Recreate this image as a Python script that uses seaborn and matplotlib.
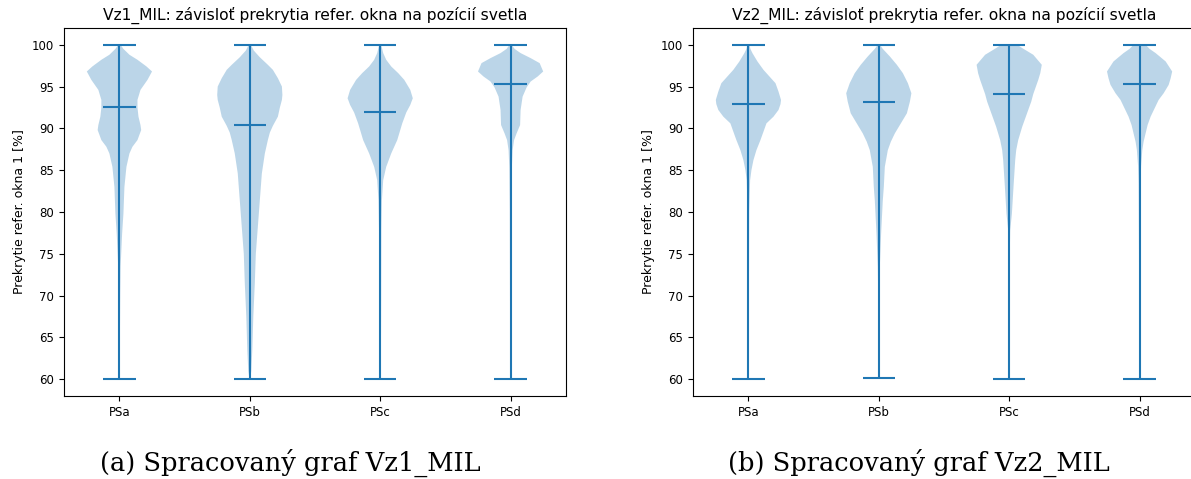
import matplotlib
matplotlib.use("Agg")
import matplotlib.pyplot as plt
import seaborn as sns

# kategorie (pozicie svetla)
categories = ["PSa", "PSb", "PSc", "PSd"]

# Vz1_MIL: profil hustoty (y v %, polovicna sirka v relativnych jednotkach)
vz1_psa_y = [60, 65, 70, 73.5, 77.4, 79.8, 83, 85.4, 87, 87.8, 88.6, 89.8, 90.4, 91.4, 92.5, 93.4, 94.6, 95.8, 96.8, 97.4, 98.2, 98.8, 99.5, 100]
vz1_psa_w = [0.3, 0.5, 0.8, 1.2, 2.7, 4, 5, 7, 10, 13, 18, 21.7, 21, 19, 18, 18, 21, 28, 32.5, 27, 18, 10, 4, 1]
vz1_psb_y = [60, 61, 63.5, 67.5, 71.5, 75, 77.4, 81.4, 84.6, 87, 88.6, 89.5, 90.3, 91.4, 92.5, 93.4, 94, 95, 96, 97, 97.6, 98.5, 99.3, 100]
vz1_psb_w = [0.3, 1.5, 2.5, 3.5, 5, 6, 7.5, 10, 12, 15, 18, 20, 23, 28, 30, 32, 32.5, 32, 28, 23, 18, 10, 4, 1]
vz1_psc_y = [60, 65, 70, 78, 81.4, 83.8, 85.4, 87, 88.6, 90.6, 91.9, 92.8, 93.6, 94.6, 95.8, 96.6, 97.4, 98.2, 99, 100]
vz1_psc_w = [0.5, 0.8, 1, 1.2, 1.7, 3, 6, 11, 17, 22, 26, 30, 32.5, 30, 24, 18, 11, 6, 3, 1]
vz1_psd_y = [60, 70, 80, 85.4, 87.4, 88.6, 89.4, 90.4, 92.2, 93.8, 94.9, 95.6, 96.2, 96.8, 97.8, 98.4, 99, 99.5, 100]
vz1_psd_w = [0.4, 0.6, 0.8, 1.3, 2, 3.5, 6, 9.5, 10, 12, 16, 20, 27, 32.5, 29, 20, 10, 4, 1]

# Vz2_MIL
vz2_psa_y = [60, 70, 80, 83.8, 85, 86.2, 87.4, 88.6, 89.6, 90.6, 91.4, 92.2, 92.9, 93.4, 94.4, 95.4, 96.2, 97, 98, 99, 99.5, 100]
vz2_psa_w = [0.4, 0.5, 0.8, 1.7, 3, 5, 8, 12, 15, 18, 25, 30, 32, 32.5, 30, 27, 21, 15, 9, 4, 2, 1]
vz2_psb_y = [60.1, 65, 70, 73.4, 77.4, 81.4, 83, 85.4, 87.4, 88.4, 89.4, 90.6, 91.8, 93.2, 94.2, 95.4, 96.6, 97.6, 98.6, 99.5, 100]
vz2_psb_w = [0.3, 0.5, 0.6, 1, 2.3, 4, 5, 6, 9, 12, 16, 22, 28, 31, 32.5, 29, 24, 18, 11, 4, 1]
vz2_psc_y = [60, 70, 75, 77.8, 79.8, 83, 86.2, 87.4, 88.6, 90.2, 91.2, 92.2, 93.2, 94.1, 95.8, 96.6, 97.6, 98.8, 99.6, 100]
vz2_psc_w = [0.4, 0.5, 0.6, 1, 2.7, 4.3, 6, 7, 9, 13, 16, 19, 22, 24, 29, 31, 32.5, 24, 13, 8]
vz2_psd_y = [60, 75, 83.4, 85.5, 87.4, 88.4, 89.4, 90.4, 91.4, 92.4, 93.4, 94.2, 95.2, 96, 96.8, 98, 99, 99.5, 100]
vz2_psd_w = [0.4, 0.6, 1, 1.5, 2.7, 4, 6, 8, 11, 15, 19, 24, 29, 31, 32.5, 26, 16, 10, 6]

vz1_means = [92.5, 90.4, 92.0, 95.3]
vz2_means = [92.9, 93.2, 94.1, 95.3]
vz1_mins = [60, 60, 60, 60]
vz2_mins = [60, 60.1, 60, 60]
vz1_maxs = [100, 100, 100, 100]
vz2_maxs = [100, 100, 100, 100]

sns.set_style("ticks", {"axes.edgecolor": "black", "xtick.color": "black",
                        "ytick.color": "black", "text.color": "black",
                        "axes.labelcolor": "black"})
plt.rcParams["font.family"] = ["DejaVu Sans"]
plt.rcParams["xtick.major.size"] = 3.5
plt.rcParams["ytick.major.size"] = 3.5
plt.rcParams["axes.linewidth"] = 0.8

farba = sns.color_palette("tab10")[0]


def violiny(ax, ys, ws, means, mins, maxs, nazov):
    stats = []
    for y, w, m, lo, hi in zip(ys, ws, means, mins, maxs):
        stats.append({"coords": y, "vals": w, "mean": m, "median": m,
                      "min": lo, "max": hi})
    parts = ax.violin(stats, positions=[1, 2, 3, 4], widths=0.5,
                      showmeans=True, showextrema=True, showmedians=False)
    for b in parts["bodies"]:
        b.set_facecolor(farba)
        b.set_edgecolor("none")
        b.set_alpha(0.3)
    for k in ["cmeans", "cmins", "cmaxes", "cbars"]:
        parts[k].set_color(farba)
        parts[k].set_linewidth(1.5)
    ax.set_xticks([1, 2, 3, 4])
    ax.set_xticklabels(categories)
    ax.set_yticks(range(60, 101, 5))
    ax.set_xlim(0.575, 4.425)
    ax.set_ylim(58, 102)
    ax.tick_params(labelsize=8.5)
    ax.set_ylabel("Prekrytie refer. okna 1 [%]", fontsize=9)
    ax.set_title(nazov, fontsize=11.2)


fig = plt.figure(figsize=(11.91, 4.79), dpi=100)
ax1 = fig.add_axes([64 / 1191, 83 / 479, 502 / 1191, 368 / 479])
ax2 = fig.add_axes([693 / 1191, 83 / 479, 502 / 1191, 368 / 479])

violiny(ax1, [vz1_psa_y, vz1_psb_y, vz1_psc_y, vz1_psd_y],
        [vz1_psa_w, vz1_psb_w, vz1_psc_w, vz1_psd_w],
        vz1_means, vz1_mins, vz1_maxs,
        "Vz1_MIL: závisloť prekrytia refer. okna na pozícií svetla")
violiny(ax2, [vz2_psa_y, vz2_psb_y, vz2_psc_y, vz2_psd_y],
        [vz2_psa_w, vz2_psb_w, vz2_psc_w, vz2_psd_w],
        vz2_means, vz2_mins, vz2_maxs,
        "Vz2_MIL: závisloť prekrytia refer. okna na pozícií svetla")

# popisky pod grafmi
fig.text(290 / 1191, 1 - 463 / 479, "(a) Spracovaný graf Vz1_MIL",
         ha="center", va="center", fontsize=18.5, family="DejaVu Serif")
fig.text(919 / 1191, 1 - 463 / 479, "(b) Spracovaný graf Vz2_MIL",
         ha="center", va="center", fontsize=18.5, family="DejaVu Serif")

fig.savefig("out.png", dpi=100)
